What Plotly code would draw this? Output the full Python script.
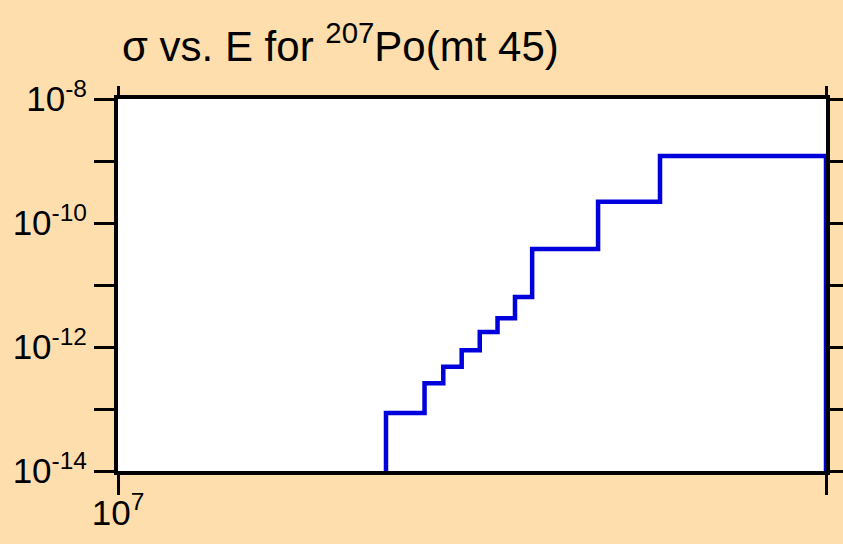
import plotly.graph_objects as go

# Group boundaries (eV) and group cross sections (b) for 207Po, MT=45
energy_edges = [1.3e7, 1.35e7, 1.375e7, 1.4e7, 1.425e7, 1.45e7, 1.475e7, 1.5e7, 1.6e7, 1.7e7, 2.0e7]
sigma = [8.6e-14, 2.6e-13, 4.8e-13, 8.9e-13, 1.75e-12, 2.9e-12, 6.4e-12, 3.8e-11, 2.2e-10, 1.2e-9]

y_major_vals = [1e-14, 1e-12, 1e-10, 1e-8]
y_major_text = ["10<sup>-14</sup>", "10<sup>-12</sup>", "10<sup>-10</sup>", "10<sup>-8</sup>"]
y_minor_vals = [1e-13, 1e-11, 1e-9]
x_major_vals = [1e7]
x_major_text = ["10<sup>7</sup>"]
x_minor_vals = [2e7]

FONT = "Liberation Sans, Arial, sans-serif"
floor = 1e-20  # below the visible range, so the histogram closes at the axis
xs = [energy_edges[0]] + energy_edges[:-1] + [energy_edges[-1]]
ys = [floor] + sigma + [floor]

fig = go.Figure()
fig.add_trace(go.Scatter(
    x=xs, y=ys, mode="lines", line_shape="hv",
    line=dict(color="#0000dd", width=4.5),
    showlegend=False, hoverinfo="skip",
))
# invisible trace so the top tick axis is drawn
fig.add_trace(go.Scatter(
    x=[energy_edges[0]], y=[floor], mode="markers", marker=dict(opacity=0),
    xaxis="x2", yaxis="y", showlegend=False, hoverinfo="skip",
))

tick_style = dict(ticks="outside", tickwidth=2.5, tickcolor="black")

fig.update_layout(
    xaxis=dict(
        type="log", range=[7, 7.30103], automargin=False,
        showgrid=False, zeroline=False,
        showline=True, linecolor="black", linewidth=4, mirror=True,
        tickmode="array", tickvals=x_major_vals, ticktext=x_major_text,
        ticklen=20, ticklabelstandoff=-12, **tick_style,
        minor=dict(tickmode="array", tickvals=x_minor_vals, ticklen=20, **tick_style),
        tickfont=dict(family=FONT, size=35, color="black"),
    ),
    xaxis2=dict(
        type="log", range=[7, 7.30103], automargin=False,
        overlaying="x", side="top", anchor="y",
        showgrid=False, zeroline=False, showline=False, showticklabels=False,
        tickmode="array", tickvals=x_major_vals + x_minor_vals,
        ticklen=12, **tick_style,
    ),
    yaxis=dict(
        type="log", range=[-14, -8], automargin=False,
        showgrid=False, zeroline=False,
        showline=True, linecolor="black", linewidth=4, mirror="ticks",
        tickmode="array", tickvals=y_major_vals, ticktext=y_major_text,
        ticklen=20, **tick_style,
        minor=dict(tickmode="array", tickvals=y_minor_vals, ticklen=20, **tick_style),
        tickfont=dict(family=FONT, size=35, color="black"),
    ),
    width=843, height=544,
    margin=dict(l=118, r=17, t=99, b=73),
    paper_bgcolor="#FFDEAD", plot_bgcolor="white",
    title=dict(
        text="σ vs. E for <sup>207</sup>Po(mt 45)",
        x=122 / 843, xanchor="left", y=1 - 61 / 544, yanchor="bottom",
        font=dict(family=FONT, size=42, color="black"),
    ),
)

fig.write_html("out.html")
